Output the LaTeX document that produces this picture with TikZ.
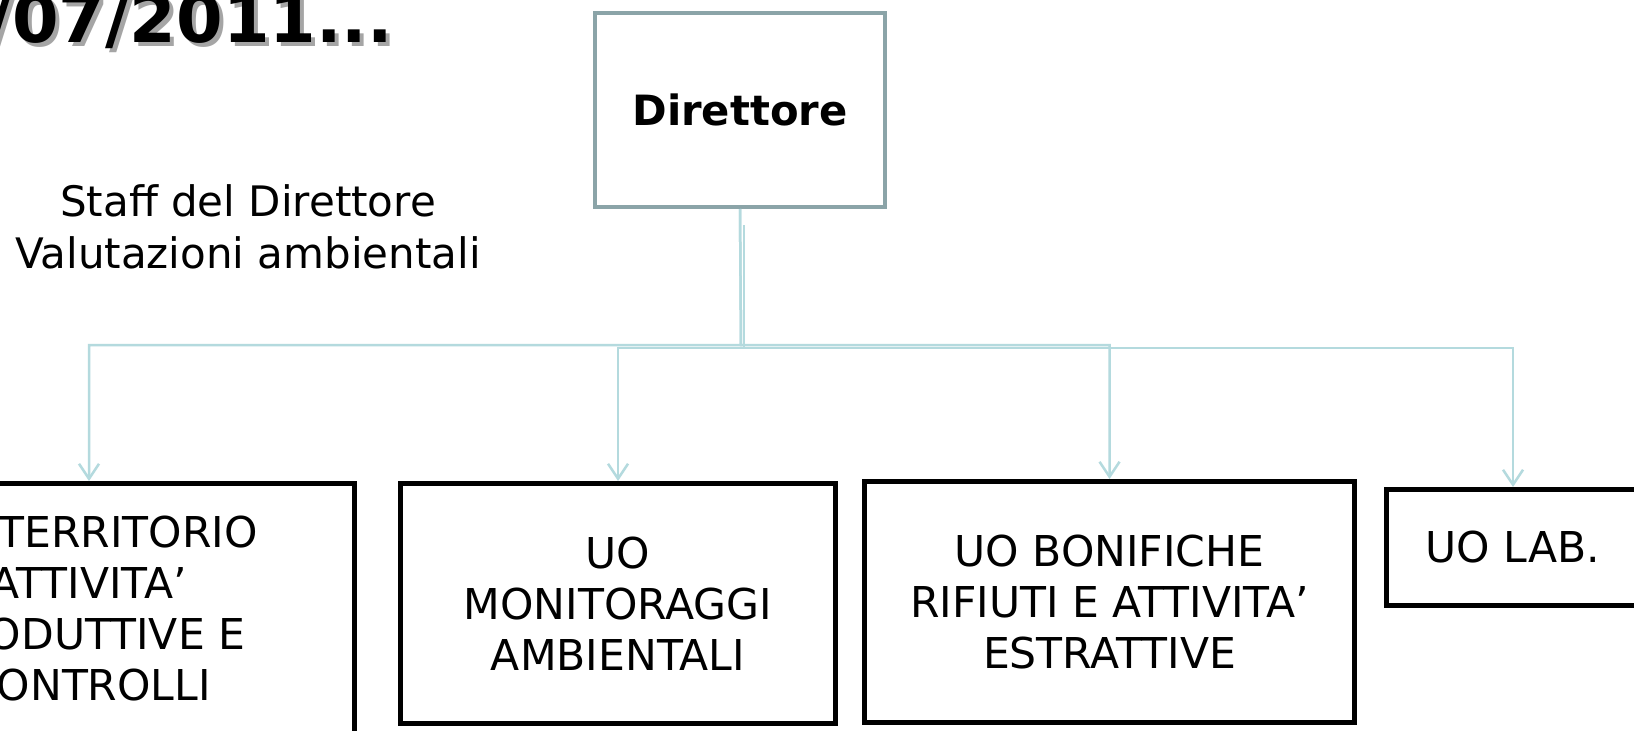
\documentclass[tikz,border=0pt]{standalone}
\usepackage{fontspec}
\setmainfont{DejaVu Sans}
\usetikzlibrary{arrows.meta}
\definecolor{connc}{RGB}{180,218,222}
\definecolor{dirc}{RGB}{139,164,168}
\definecolor{shadc}{RGB}{165,165,165}
\begin{document}
\begin{tikzpicture}[x=1pt,y=-1pt,
  unitbox/.style={draw=black,line width=5pt,fill=white,inner sep=0pt,align=center,
    font=\fontsize{42.5}{51}\selectfont},
  conn/.style={draw=connc,line width=2.5pt,-{Straight Barb[length=15pt,width=20pt,line width=2.5pt]}}]
\useasboundingbox (0,0) rectangle (1634,731);
\clip (0,0) rectangle (1634,731);
\fill[white] (0,0) rectangle (1634,731);
% title
\node[anchor=base east,inner sep=0pt,text=shadc,font=\fontsize{67}{70}\selectfont\bfseries] (titsh) at (397,46) {/07/2011...};
\node[anchor=base east,inner sep=0pt,font=\fontsize{67}{70}\selectfont\bfseries] (tit) at (393,42) {/07/2011...};
% staff
\node[align=center,inner sep=0pt,font=\fontsize{42}{52}\selectfont] (staff) at (248,227) {Staff del Direttore\\Valutazioni ambientali};
% director
\node[draw=dirc,line width=4pt,fill=white,minimum width=290pt,minimum height=194pt,inner sep=0pt,
  font=\fontsize{41.7}{50}\selectfont\bfseries] (dir) at (740,110) {Direttore};
% units
\node[unitbox,minimum width=531pt,minimum height=250pt] (b1) at (89,608.5) {UO TERRITORIO\\ATTIVITA’\\PRODUTTIVE E\\CONTROLLI};
\node[unitbox,minimum width=435pt,minimum height=240pt] (b2) at (618,603.5) {UO\\MONITORAGGI\\AMBIENTALI};
\node[unitbox,minimum width=490pt,minimum height=241pt] (b3) at (1109.5,602) {UO BONIFICHE\\RIFIUTI E ATTIVITA’\\ESTRATTIVE};
\node[unitbox,minimum width=253pt,minimum height=116pt] (b4) at (1513,547.5) {UO LAB.};
% connectors
\coordinate (j1) at (741,345);
\coordinate (s2) at (744,225);
\coordinate (j2) at (744,348);
\draw[conn] (dir.south) -- (j1) -| (b1.north);
\draw[conn] (dir.south) -- (j1) -| (b3.north);
\draw[conn] (s2) -- (j2) -| (b2.north);
\draw[conn] (s2) -- (j2) -| (b4.north);
\end{tikzpicture}
\end{document}
